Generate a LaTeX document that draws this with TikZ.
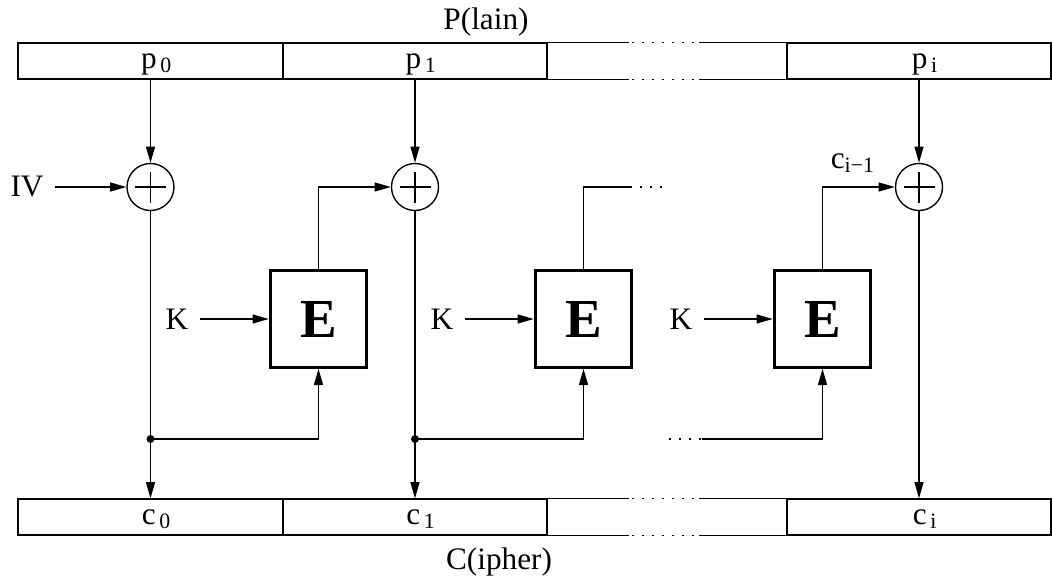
\documentclass[tikz,border=0pt]{standalone}
\usepackage{fontspec}
\setmainfont{Liberation Serif}
\usetikzlibrary{arrows.meta,positioning}

\begin{document}
\begin{tikzpicture}[x=0.4pt,y=-0.4pt,>={Triangle[length=6.5pt,width=3.6pt]},line width=0.55pt]
      \tikzset{txt/.style={inner sep=1pt,font=\fontsize{12.5}{15}\selectfont},
        cell/.style={txt,draw,minimum height=14.4pt,inner sep=0pt,text depth=0pt},
        xorgate/.style={circle,draw,minimum size=18.8pt,inner sep=0pt,path picture={\draw ([xshift=-6.2pt]path picture bounding box.center)--([xshift=6.2pt]path picture bounding box.center);\draw ([yshift=-6.2pt]path picture bounding box.center)--([yshift=6.2pt]path picture bounding box.center);}},
        enc/.style={draw,line width=1.2pt,minimum size=38.6pt,inner sep=0pt,font=\fontsize{22}{26}\bfseries\selectfont},
        dots/.style={dash pattern=on 0.6pt off 3.4pt}}
      \useasboundingbox (0,0) rectangle (1052,579);
      % plaintext and ciphertext blocks
      \node[txt] (plain) at (486,22) {P(lain)};\node[txt] (ciph) at (499,562) {C(ipher)};
      \node[cell,minimum width=106pt] (pc0) at (150.5,61) {\hspace{5pt}p\textsubscript{\,0}};\node[cell,minimum width=105.6pt] (pc1) at (415,61) {\hspace{5pt}p\textsubscript{\,1}};\node[cell,draw=none,minimum width=96pt] (pc2) at (667,61) {};\node[cell,minimum width=105.6pt] (pc3) at (919,61) {\hspace{5pt}p\textsubscript{\,i}};
      \node[cell,minimum width=106pt] (cc0) at (150.5,517) {\hspace{5pt}c\textsubscript{\,0}};\node[cell,minimum width=105.6pt] (cc1) at (415,517) {\hspace{5pt}c\textsubscript{\,1}};\node[cell,draw=none,minimum width=96pt] (cc2) at (667,517) {};\node[cell,minimum width=105.6pt] (cc3) at (919,517) {\hspace{5pt}c\textsubscript{\,i}};
      \foreach \c in {pc2,cc2}{\draw (\c.north west)--++(83,0) ++(70,0)--(\c.north east) (\c.south west)--++(83,0) ++(70,0)--(\c.south east);
        \draw[dots] ([xshift=34.4pt]\c.north west)--++(67,0) ([xshift=34.4pt]\c.south west)--++(67,0);}
      % xor gates, cipher boxes, keys
      \node[xorgate] (x0) at (150.5,187) {};\node[xorgate] (x1) at (415,187) {};\node[xorgate] (x3) at (919,187) {};
      \node[txt,inner sep=4.5pt] (iv) at (27,187) {IV};
      \node[enc] (e1) at (318.5,319) {E};\node[enc] (e2) at (583.5,319) {E};\node[enc] (e3) at (822.5,319) {E};
      \node[txt,inner sep=4.5pt] (k1) at (177,319) {K};\node[txt,inner sep=4.5pt] (k2) at (442,319) {K};\node[txt,inner sep=4.5pt] (k3) at (681,319) {K};
      \node[txt] (cprev) at (853,163) {c\textsubscript{i−1}};
      \coordinate (d0) at (150.5,439);\coordinate (d1) at (415,439);
      \coordinate (h2) at (630,187);\coordinate (h2e) at (664,187);\coordinate (f3) at (669,439);\coordinate (g3) at (702,439);
      \foreach \a/\b in {pc0/x0,pc1/x1,pc3/x3,iv/x0,k1/e1,k2/e2,k3/e3,x0/cc0,x1/cc1,x3/cc3}{\draw[->] (\a)--(\b);}
      \foreach \d/\e in {d0/e1,d1/e2}{\fill (\d) circle (1.6pt);\draw[->] (\d) -| (\e);}
      \draw[->] (e1) |- (x1);\draw[->] (e3) |- (x3);\draw (e2) |- (h2);\draw[dots] (h2)--(h2e);
      \draw[dots] (f3)--(g3);\draw[->] (g3) -| (e3);
    \end{tikzpicture}
\end{document}
